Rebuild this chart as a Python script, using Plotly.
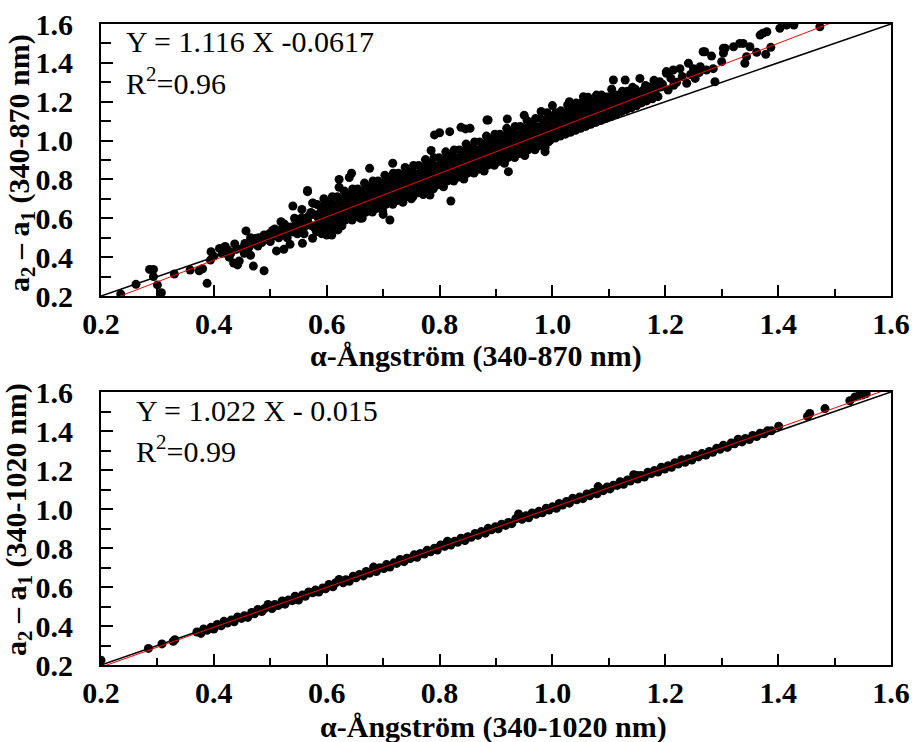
import plotly.graph_objects as go

# ---------------- data ----------------
# top panel: alpha-Angstrom (340-870 nm) vs a2 - a1 (340-870 nm)
top_low_x = [0.235, 0.262, 0.286, 0.293, 0.293, 0.300, 0.307, 0.330, 0.358, 0.374,
             0.380, 0.388, 0.395, 0.394, 0.410, 0.425, 0.427, 0.437, 0.442, 0.435,
             0.457, 0.454, 0.463, 0.470, 0.475, 0.478, 0.489, 0.489, 0.498, 0.504,
             0.511, 0.519, 0.524, 0.522, 0.531, 0.535, 0.540, 0.543, 0.556, 0.557,
             0.566, 0.575, 0.572, 0.575, 0.577, 0.566,
             0.440, 0.445, 0.415, 0.400, 0.470, 0.480, 0.495, 0.505, 0.510, 0.515,
             0.528, 0.535, 0.545, 0.550, 0.552, 0.560, 0.548, 0.563, 0.570, 0.580,
             0.455, 0.460, 0.465, 0.485, 0.492, 0.500, 0.508, 0.518, 0.525, 0.530,
             0.540, 0.545, 0.555, 0.560, 0.568, 0.575, 0.420, 0.430, 0.450, 0.465]
top_low_y = [0.210, 0.260, 0.337, 0.337, 0.300, 0.257, 0.217, 0.313, 0.334, 0.330,
             0.340, 0.265, 0.428, 0.385, 0.445, 0.437, 0.400, 0.468, 0.360, 0.370,
             0.535, 0.420, 0.455, 0.354, 0.497, 0.457, 0.330, 0.514, 0.520, 0.537,
             0.432, 0.582, 0.440, 0.550, 0.535, 0.466, 0.663, 0.600, 0.645, 0.471,
             0.737, 0.679, 0.630, 0.497, 0.620, 0.585,
             0.440, 0.380, 0.420, 0.405, 0.480, 0.500, 0.490, 0.510, 0.525, 0.500,
             0.515, 0.555, 0.560, 0.540, 0.575, 0.555, 0.520, 0.600, 0.565, 0.545,
             0.470, 0.440, 0.500, 0.475, 0.500, 0.480, 0.545, 0.530, 0.570, 0.500,
             0.530, 0.590, 0.600, 0.520, 0.610, 0.560, 0.455, 0.420, 0.445, 0.410]

top_band_x = [
    0.582, 0.587, 0.585, 0.589, 0.583,
    0.591, 0.596, 0.594, 0.598, 0.592, 0.595,
    0.600, 0.605, 0.603, 0.607, 0.601,
    0.609, 0.614, 0.612, 0.616, 0.610,
    0.618, 0.623, 0.621, 0.625, 0.619,
    0.627, 0.632, 0.630, 0.634, 0.628, 0.631,
    0.636, 0.641, 0.639, 0.643, 0.637,
    0.645, 0.650, 0.648, 0.652, 0.646,
    0.654, 0.659, 0.657, 0.661, 0.655,
    0.663, 0.668, 0.666, 0.670, 0.664, 0.667,
    0.672, 0.677, 0.675, 0.679, 0.673,
    0.681, 0.686, 0.684, 0.688, 0.682,
    0.690, 0.695, 0.693, 0.697, 0.691,
    0.699, 0.704, 0.702, 0.706, 0.700, 0.703,
    0.708, 0.713, 0.711, 0.715, 0.709,
    0.717, 0.722, 0.720, 0.724, 0.718,
    0.726, 0.731, 0.729, 0.733, 0.727,
    0.735, 0.740, 0.738, 0.742, 0.736, 0.739,
    0.744, 0.749, 0.747, 0.751, 0.745,
    0.753, 0.758, 0.756, 0.760, 0.754,
    0.762, 0.767, 0.765, 0.769, 0.763,
    0.771, 0.776, 0.774, 0.778, 0.772, 0.775,
    0.780, 0.785, 0.783, 0.787, 0.781,
    0.789, 0.794, 0.792, 0.796, 0.790,
    0.798, 0.803, 0.801, 0.805, 0.799,
    0.807, 0.812, 0.810, 0.814, 0.808, 0.811,
    0.816, 0.821, 0.819, 0.823, 0.817,
    0.825, 0.830, 0.828, 0.832, 0.826,
    0.834, 0.839, 0.837, 0.841, 0.835,
    0.843, 0.848, 0.846, 0.850, 0.844, 0.847,
    0.852, 0.857, 0.855, 0.859, 0.853,
    0.861, 0.866, 0.864, 0.868, 0.862,
    0.870, 0.875, 0.873, 0.877, 0.871,
    0.879, 0.884, 0.882, 0.886, 0.880, 0.883,
    0.888, 0.893, 0.891, 0.895, 0.889,
    0.897, 0.902, 0.900, 0.904, 0.898,
    0.906, 0.911, 0.909, 0.913, 0.907,
    0.915, 0.920, 0.918, 0.922, 0.916, 0.919,
    0.924, 0.929, 0.927, 0.931, 0.925,
    0.933, 0.938, 0.936, 0.940, 0.934,
    0.942, 0.947, 0.945, 0.949, 0.943,
    0.951, 0.956, 0.954, 0.958, 0.952, 0.955,
    0.960, 0.965, 0.963, 0.967, 0.961,
    0.969, 0.974, 0.972, 0.976, 0.970,
    0.978, 0.983, 0.981, 0.985, 0.979,
    0.987, 0.992, 0.990, 0.994, 0.988, 0.991,
    0.996, 1.001, 0.999, 1.003, 0.997,
    1.005, 1.010, 1.008, 1.012, 1.006,
    1.014, 1.019, 1.017, 1.021, 1.015,
    1.023, 1.028, 1.026, 1.030, 1.024, 1.027,
    1.032, 1.037, 1.035, 1.039, 1.033,
    1.041, 1.046, 1.044, 1.048, 1.042,
    1.050, 1.055, 1.053, 1.057, 1.051,
    1.059, 1.064, 1.062, 1.066, 1.060, 1.063,
    1.068, 1.073, 1.071, 1.075, 1.069,
    1.077, 1.082, 1.080, 1.084, 1.078,
    1.086, 1.091, 1.089, 1.093, 1.087,
    1.095, 1.100, 1.098, 1.102, 1.096,
    1.104, 1.109, 1.107, 1.111, 1.105,
    1.113, 1.118, 1.116, 1.120,
    1.122, 1.127, 1.125, 1.129,
    1.131, 1.136, 1.134, 1.138,
    1.140, 1.145, 1.143, 1.147,
    1.149, 1.154, 1.152,
    1.158, 1.163, 1.161, 1.165,
    1.167, 1.172, 1.170,
    1.177, 1.182, 1.180,
    1.187, 1.192,
]
top_band_y = [
    0.531, 0.571, 0.601, 0.631, 0.671,
    0.521, 0.561, 0.591, 0.631, 0.661, 0.701,
    0.561, 0.581, 0.631, 0.661, 0.681,
    0.551, 0.601, 0.621, 0.656, 0.711,
    0.571, 0.611, 0.641, 0.671, 0.711,
    0.561, 0.601, 0.631, 0.671, 0.701, 0.741,
    0.601, 0.621, 0.671, 0.701, 0.721,
    0.591, 0.641, 0.661, 0.696, 0.751,
    0.611, 0.651, 0.681, 0.711, 0.751,
    0.601, 0.641, 0.671, 0.711, 0.741, 0.781,
    0.642, 0.662, 0.712, 0.742, 0.762,
    0.632, 0.682, 0.702, 0.737, 0.792,
    0.652, 0.692, 0.722, 0.752, 0.792,
    0.642, 0.682, 0.712, 0.752, 0.782, 0.822,
    0.682, 0.702, 0.752, 0.782, 0.802,
    0.672, 0.722, 0.742, 0.777, 0.832,
    0.692, 0.732, 0.762, 0.792, 0.832,
    0.682, 0.722, 0.752, 0.792, 0.822, 0.862,
    0.722, 0.742, 0.792, 0.822, 0.842,
    0.712, 0.762, 0.782, 0.817, 0.872,
    0.732, 0.772, 0.802, 0.832, 0.872,
    0.722, 0.762, 0.792, 0.832, 0.862, 0.902,
    0.762, 0.782, 0.832, 0.862, 0.882,
    0.752, 0.802, 0.822, 0.857, 0.912,
    0.772, 0.812, 0.842, 0.872, 0.912,
    0.762, 0.802, 0.832, 0.872, 0.902, 0.942,
    0.802, 0.822, 0.872, 0.902, 0.922,
    0.792, 0.842, 0.862, 0.897, 0.952,
    0.812, 0.852, 0.882, 0.912, 0.952,
    0.802, 0.842, 0.872, 0.912, 0.942, 0.982,
    0.842, 0.862, 0.912, 0.942, 0.962,
    0.833, 0.883, 0.903, 0.938, 0.993,
    0.853, 0.893, 0.923, 0.953, 0.993,
    0.843, 0.883, 0.913, 0.953, 0.983, 1.023,
    0.883, 0.903, 0.953, 0.983, 1.003,
    0.873, 0.923, 0.943, 0.978, 1.033,
    0.893, 0.933, 0.963, 0.993, 1.033,
    0.883, 0.923, 0.953, 0.993, 1.023, 1.063,
    0.923, 0.943, 0.993, 1.023, 1.043,
    0.913, 0.963, 0.983, 1.018, 1.073,
    0.933, 0.973, 1.003, 1.033, 1.073,
    0.923, 0.963, 0.993, 1.033, 1.063, 1.103,
    0.963, 0.983, 1.033, 1.063, 1.083,
    0.953, 1.003, 1.023, 1.058, 1.113,
    0.973, 1.013, 1.043, 1.073, 1.113,
    0.963, 1.003, 1.033, 1.073, 1.103, 1.143,
    1.003, 1.023, 1.073, 1.103, 1.123,
    1.013, 1.043, 1.063, 1.098, 1.143,
    1.023, 1.053, 1.083, 1.113, 1.153,
    1.033, 1.058, 1.073, 1.113, 1.143, 1.183,
    1.043, 1.063, 1.113, 1.143, 1.163,
    1.053, 1.083, 1.103, 1.138, 1.193,
    1.063, 1.093, 1.123, 1.153, 1.193,
    1.073, 1.098, 1.113, 1.153, 1.183, 1.223,
    1.084, 1.104, 1.154, 1.184, 1.204,
    1.094, 1.124, 1.144, 1.179, 1.234,
    1.104, 1.134, 1.164, 1.194, 1.234,
    1.114, 1.139, 1.154, 1.194, 1.224,
    1.124, 1.144, 1.194, 1.224, 1.264,
    1.134, 1.164, 1.184, 1.219,
    1.149, 1.174, 1.204, 1.234,
    1.159, 1.184, 1.224, 1.254,
    1.169, 1.199, 1.229, 1.264,
    1.179, 1.214, 1.244,
    1.194, 1.224, 1.259, 1.284,
    1.204, 1.234, 1.274,
    1.215, 1.250, 1.290,
    1.226, 1.276,
]

# second layer of the dense band (points between the columns above)
top_fill_x = [
    0.588, 0.592, 0.590, 0.593,
    0.597, 0.601, 0.599, 0.602,
    0.606, 0.610, 0.608, 0.611,
    0.615, 0.619, 0.617, 0.620,
    0.624, 0.628, 0.626, 0.629,
    0.633, 0.637, 0.635, 0.638,
    0.642, 0.646, 0.644, 0.647,
    0.651, 0.655, 0.653, 0.656,
    0.660, 0.664, 0.662, 0.665,
    0.669, 0.673, 0.671, 0.674,
    0.678, 0.682, 0.680, 0.683,
    0.687, 0.691, 0.689, 0.692,
    0.696, 0.700, 0.698, 0.701,
    0.705, 0.709, 0.707, 0.710,
    0.714, 0.718, 0.716, 0.719,
    0.723, 0.727, 0.725, 0.728,
    0.732, 0.736, 0.734, 0.737,
    0.741, 0.745, 0.743, 0.746,
    0.750, 0.754, 0.752, 0.755,
    0.759, 0.763, 0.761, 0.764,
    0.768, 0.772, 0.770, 0.773,
    0.777, 0.781, 0.779, 0.782,
    0.786, 0.790, 0.788, 0.791,
    0.795, 0.799, 0.797, 0.800,
    0.804, 0.808, 0.806, 0.809,
    0.813, 0.817, 0.815, 0.818,
    0.822, 0.826, 0.824, 0.827,
    0.831, 0.835, 0.833, 0.836,
    0.840, 0.844, 0.842, 0.845,
    0.849, 0.853, 0.851, 0.854,
    0.858, 0.862, 0.860, 0.863,
    0.867, 0.871, 0.869, 0.872,
    0.876, 0.880, 0.878, 0.881,
    0.885, 0.889, 0.887, 0.890,
    0.894, 0.898, 0.896, 0.899,
    0.903, 0.907, 0.905, 0.908,
    0.912, 0.916, 0.914, 0.917,
    0.921, 0.925, 0.923, 0.926,
    0.930, 0.934, 0.932, 0.935,
    0.939, 0.943, 0.941, 0.944,
    0.948, 0.952, 0.950, 0.953,
    0.957, 0.961, 0.959, 0.962,
    0.966, 0.970, 0.968, 0.971,
    0.975, 0.979, 0.977, 0.980,
    0.984, 0.988, 0.986, 0.989,
    0.993, 0.997, 0.995, 0.998,
    1.002, 1.006, 1.004, 1.007,
    1.011, 1.015, 1.013, 1.016,
    1.020, 1.024, 1.022, 1.025,
    1.029, 1.033, 1.031, 1.034,
    1.038, 1.042, 1.040, 1.043,
    1.047, 1.051, 1.049, 1.052,
    1.056, 1.060, 1.058, 1.061,
    1.065, 1.069, 1.067, 1.070,
    1.074, 1.078, 1.076, 1.079,
    1.083, 1.087, 1.085, 1.088,
    1.092, 1.096, 1.094, 1.097,
    1.101, 1.105, 1.103, 1.106,
    1.110, 1.114, 1.112, 1.115,
    1.119, 1.123, 1.121, 1.124,
    1.128, 1.132, 1.130, 1.133,
    1.137, 1.141, 1.139, 1.142,
]
top_fill_y = [
    0.551, 0.581, 0.616, 0.651,
    0.551, 0.581, 0.616, 0.651,
    0.571, 0.601, 0.636, 0.671,
    0.571, 0.601, 0.636, 0.671,
    0.591, 0.621, 0.656, 0.691,
    0.591, 0.621, 0.656, 0.691,
    0.611, 0.641, 0.676, 0.711,
    0.611, 0.641, 0.676, 0.711,
    0.631, 0.661, 0.696, 0.731,
    0.631, 0.661, 0.696, 0.731,
    0.652, 0.682, 0.717, 0.752,
    0.652, 0.682, 0.717, 0.752,
    0.672, 0.702, 0.737, 0.772,
    0.672, 0.702, 0.737, 0.772,
    0.692, 0.722, 0.757, 0.792,
    0.692, 0.722, 0.757, 0.792,
    0.712, 0.742, 0.777, 0.812,
    0.712, 0.742, 0.777, 0.812,
    0.732, 0.762, 0.797, 0.832,
    0.732, 0.762, 0.797, 0.832,
    0.752, 0.782, 0.817, 0.852,
    0.752, 0.782, 0.817, 0.852,
    0.772, 0.802, 0.837, 0.872,
    0.772, 0.802, 0.837, 0.872,
    0.792, 0.822, 0.857, 0.892,
    0.792, 0.822, 0.857, 0.892,
    0.812, 0.842, 0.877, 0.912,
    0.812, 0.842, 0.877, 0.912,
    0.832, 0.862, 0.897, 0.932,
    0.832, 0.862, 0.897, 0.932,
    0.852, 0.882, 0.917, 0.952,
    0.853, 0.883, 0.918, 0.953,
    0.873, 0.903, 0.938, 0.973,
    0.873, 0.903, 0.938, 0.973,
    0.893, 0.923, 0.958, 0.993,
    0.893, 0.923, 0.958, 0.993,
    0.913, 0.943, 0.978, 1.013,
    0.913, 0.943, 0.978, 1.013,
    0.933, 0.963, 0.998, 1.033,
    0.933, 0.963, 0.998, 1.033,
    0.953, 0.983, 1.018, 1.053,
    0.953, 0.983, 1.018, 1.053,
    0.973, 1.003, 1.038, 1.073,
    0.973, 1.003, 1.038, 1.073,
    0.993, 1.023, 1.058, 1.093,
    0.993, 1.023, 1.058, 1.093,
    1.018, 1.043, 1.078, 1.113,
    1.033, 1.058, 1.098, 1.133,
    1.038, 1.063, 1.098, 1.133,
    1.053, 1.078, 1.118, 1.153,
    1.058, 1.083, 1.118, 1.153,
    1.073, 1.098, 1.138, 1.173,
    1.078, 1.103, 1.138, 1.173,
    1.094, 1.119, 1.159, 1.194,
    1.099, 1.124, 1.159, 1.194,
    1.114, 1.139, 1.179, 1.214,
    1.119, 1.144, 1.179, 1.214,
    1.134, 1.159, 1.199, 1.234,
    1.139, 1.164, 1.199, 1.234,
    1.154, 1.179, 1.219, 1.254,
    1.159, 1.184, 1.219, 1.254,
    1.174, 1.199, 1.239, 1.274,
]

top_out_x = [0.566, 0.644, 0.640, 0.622, 0.622, 0.676, 0.717, 0.791, 0.818, 0.838,
             0.846, 0.886, 0.785, 0.820, 0.609, 0.620, 0.712, 0.576, 0.783, 0.922,
             0.987, 0.884, 0.920, 0.854, 1.055, 1.061, 0.600, 0.800, 0.700, 0.660,
             0.750, 0.950, 1.000, 1.030, 0.980]
top_out_y = [0.743, 0.832, 0.810, 0.800, 0.760, 0.857, 0.883, 1.029, 1.046, 1.068,
             1.060, 1.106, 0.949, 0.689, 0.514, 0.540, 0.591, 0.677, 0.720, 0.840,
             0.943, 1.106, 1.111, 1.063, 1.226, 1.210, 0.514, 1.040, 0.620, 0.600,
             0.700, 1.130, 1.180, 1.200, 1.150]

top_high_x = [1.202, 1.214, 1.241, 1.267, 1.282, 1.288, 1.303, 1.303, 1.300, 1.321,
              1.332, 1.338, 1.350, 1.344, 1.341, 1.362, 1.368, 1.380, 1.378, 1.387,
              1.403, 1.415, 1.428, 1.474, 1.190, 1.205, 1.238, 1.253, 1.262, 1.273,
              1.226, 1.108, 1.129, 1.155, 1.180, 1.202, 1.270, 1.306, 1.373, 1.220,
              1.230, 1.195, 1.210, 1.245, 1.260, 1.285, 1.250, 1.215]
top_high_y = [1.346, 1.363, 1.398, 1.457, 1.435, 1.303, 1.475, 1.450, 1.406, 1.483,
              1.500, 1.500, 1.483, 1.432, 1.398, 1.454, 1.543, 1.560, 1.444, 1.480,
              1.578, 1.595, 1.595, 1.586, 1.303, 1.260, 1.295, 1.320, 1.380, 1.363,
              1.370, 1.312, 1.312, 1.320, 1.310, 1.355, 1.457, 1.475, 1.553, 1.300,
              1.330, 1.290, 1.320, 1.340, 1.350, 1.370, 1.370, 1.285]

top_x = top_low_x + top_band_x + top_fill_x + top_out_x + top_high_x
top_y = top_low_y + top_band_y + top_fill_y + top_out_y + top_high_y
top_slope, top_intercept = 1.116, -0.0617

# bottom panel: alpha-Angstrom (340-1020 nm) vs a2 - a1 (340-1020 nm)
bot_main_x = [
    0.370, 0.377, 0.382, 0.388, 0.395, 0.400, 0.406, 0.413, 0.418, 0.424,
    0.431, 0.436, 0.442, 0.449, 0.454, 0.460, 0.467, 0.472, 0.478, 0.485,
    0.490, 0.496, 0.503, 0.508, 0.514, 0.521, 0.526, 0.532, 0.539, 0.544,
    0.550, 0.557, 0.562, 0.568, 0.575, 0.580, 0.586, 0.593, 0.598, 0.604,
    0.611, 0.616, 0.622, 0.629, 0.634, 0.640, 0.647, 0.652, 0.658, 0.665,
    0.670, 0.676, 0.683, 0.688, 0.694, 0.701, 0.706, 0.712, 0.719, 0.724,
    0.730, 0.737, 0.742, 0.748, 0.755, 0.760, 0.766, 0.773, 0.778, 0.784,
    0.791, 0.796, 0.802, 0.809, 0.814, 0.820, 0.827, 0.832, 0.838, 0.845,
    0.850, 0.856, 0.863, 0.868, 0.874, 0.881, 0.886, 0.892, 0.899, 0.904,
    0.910, 0.917, 0.922, 0.928, 0.935, 0.940, 0.946, 0.953, 0.958, 0.964,
    0.971, 0.976, 0.982, 0.989, 0.994, 1.000, 1.007, 1.012, 1.018, 1.025,
    1.030, 1.036, 1.043, 1.048, 1.054, 1.061, 1.066, 1.072, 1.079, 1.081,
    1.084, 1.090, 1.097, 1.102, 1.108, 1.115, 1.120, 1.126, 1.133, 1.138,
    1.144, 1.150, 1.151, 1.157, 1.163, 1.169, 1.175, 1.181, 1.187, 1.193,
    1.199, 1.205, 1.211, 1.217, 1.223, 1.229, 1.235, 1.241, 1.247, 1.253,
    1.259, 1.265, 1.272, 1.278, 1.284, 1.291, 1.297, 1.303, 1.310, 1.317,
    1.323, 1.329, 1.336, 1.342, 1.349, 1.355, 1.362, 1.368, 1.375, 1.381,
    1.388, 1.401,
]
bot_main_y = [
    0.369, 0.362, 0.385, 0.378, 0.393, 0.384, 0.408, 0.401, 0.424, 0.415,
    0.431, 0.422, 0.446, 0.439, 0.452, 0.444, 0.469, 0.463, 0.485, 0.474,
    0.490, 0.510, 0.490, 0.510, 0.505, 0.528, 0.512, 0.533, 0.530, 0.553,
    0.533, 0.559, 0.552, 0.575, 0.570, 0.584, 0.574, 0.595, 0.591, 0.613,
    0.601, 0.622, 0.639, 0.622, 0.637, 0.629, 0.655, 0.647, 0.664, 0.657,
    0.680, 0.671, 0.702, 0.679, 0.699, 0.695, 0.715, 0.702, 0.724, 0.721,
    0.741, 0.730, 0.748, 0.746, 0.765, 0.752, 0.772, 0.769, 0.789, 0.781,
    0.799, 0.790, 0.816, 0.808, 0.835, 0.815, 0.835, 0.829, 0.850, 0.838,
    0.858, 0.855, 0.875, 0.865, 0.884, 0.876, 0.901, 0.893, 0.909, 0.899,
    0.922, 0.916, 0.931, 0.925, 0.950, 0.975, 0.947, 0.965, 0.955, 0.980,
    0.973, 0.988, 0.981, 1.004, 0.995, 1.011, 1.004, 1.028, 1.020, 1.039,
    1.030, 1.055, 1.047, 1.061, 1.053, 1.077, 1.068, 1.085, 1.078, 1.115,
    1.105, 1.094, 1.113, 1.103, 1.122, 1.121, 1.140, 1.127, 1.149, 1.143,
    1.176, 1.172, 1.154, 1.172, 1.164, 1.188, 1.182, 1.198, 1.190, 1.214,
    1.205, 1.222, 1.214, 1.237, 1.231, 1.253, 1.240, 1.258, 1.251, 1.275,
    1.267, 1.284, 1.276, 1.295, 1.291, 1.312, 1.306, 1.327, 1.316, 1.339,
    1.334, 1.358, 1.344, 1.362, 1.356, 1.377, 1.372, 1.389, 1.386, 1.401,
    1.401, 1.425,
]
bot_ends_x = [0.200, 0.284, 0.308, 0.328, 0.331, 1.452, 1.456, 1.483, 1.527, 1.536,
              1.543, 1.550, 1.556]
bot_ends_y = [0.225, 0.285, 0.308, 0.322, 0.330, 1.475, 1.490, 1.515, 1.555, 1.575,
              1.580, 1.585, 1.592]

bot_x = bot_ends_x + bot_main_x
bot_y = bot_ends_y + bot_main_y
bot_slope, bot_intercept = 1.022, -0.015

tick_vals = [0.2, 0.4, 0.6, 0.8, 1.0, 1.2, 1.4, 1.6]
tick_text = ["0.2", "0.4", "0.6", "0.8", "1.0", "1.2", "1.4", "1.6"]
minor_vals = [0.3, 0.5, 0.7, 0.9, 1.1, 1.3, 1.5]
axis_range = [0.2, 1.6]

# ---------------- figure ----------------
W, H = 912, 742
FONT = "Liberation Serif"


def px(xp):
    return xp / W


def py(yp):
    return 1 - yp / H


fig = go.Figure()

panels = [
    dict(xs=top_x, ys=top_y, slope=top_slope, icpt=top_intercept, xa="x", ya="y"),
    dict(xs=bot_x, ys=bot_y, slope=bot_slope, icpt=bot_intercept, xa="x2", ya="y2"),
]
for p in panels:
    fig.add_trace(go.Scatter(
        x=p["xs"], y=p["ys"], mode="markers", xaxis=p["xa"], yaxis=p["ya"],
        marker=dict(size=9, color="black", line=dict(width=0)),
        showlegend=False, hoverinfo="skip"))
    fig.add_trace(go.Scatter(
        x=axis_range, y=axis_range, mode="lines", xaxis=p["xa"], yaxis=p["ya"],
        line=dict(color="black", width=1.6), showlegend=False, hoverinfo="skip"))
    fig.add_trace(go.Scatter(
        x=axis_range, y=[p["slope"] * v + p["icpt"] for v in axis_range],
        mode="lines", xaxis=p["xa"], yaxis=p["ya"],
        line=dict(color="#ff0000", width=1), showlegend=False, hoverinfo="skip"))

tickfont = dict(family=FONT, size=30, color="black", weight="bold")


def xaxis_cfg(anchor, domain):
    return dict(
        domain=domain, anchor=anchor, range=axis_range, automargin=False,
        tickmode="array", tickvals=tick_vals, ticktext=tick_text,
        ticks="inside", ticklen=11, tickwidth=2, tickcolor="black",
        minor=dict(tickmode="array", tickvals=minor_vals, ticks="inside",
                   ticklen=7, tickwidth=2, tickcolor="black"),
        showline=True, linewidth=2, linecolor="black", mirror=True,
        showgrid=False, zeroline=False, tickfont=tickfont,
        ticklabelstandoff=0)


def yaxis_cfg(anchor, domain):
    return dict(
        domain=domain, anchor=anchor, range=axis_range, automargin=False,
        tickmode="array", tickvals=tick_vals, ticktext=tick_text,
        ticks="inside", ticklen=12, tickwidth=2, tickcolor="black",
        minor=dict(tickmode="array", tickvals=minor_vals, ticks="inside",
                   ticklen=10, tickwidth=2, tickcolor="black"),
        showline=True, linewidth=2, linecolor="black", mirror=True,
        showgrid=False, zeroline=False, tickfont=tickfont,
        ticklabelstandoff=20)


xdom = [px(101), px(891)]
fig.update_layout(
    width=W, height=H, margin=dict(l=0, r=0, t=0, b=0, autoexpand=False),
    paper_bgcolor="white", plot_bgcolor="white",
    xaxis=xaxis_cfg("y", xdom),
    yaxis=yaxis_cfg("x", [py(296), py(24)]),
    xaxis2=xaxis_cfg("y2", xdom),
    yaxis2=yaxis_cfg("x2", [py(665), py(392)]),
)

ann_font = dict(family=FONT, size=30, color="black")
bold_font = dict(family=FONT, size=30, color="black", weight="bold")
annotations = [
    dict(text="Y = 1.116 X -0.0617", x=px(124), y=py(42), xanchor="left", yanchor="middle", font=ann_font),
    dict(text="R<sup>2</sup>=0.96", x=px(124), y=py(81), xanchor="left", yanchor="middle", font=ann_font),
    dict(text="Y = 1.022 X - 0.015", x=px(134), y=py(410), xanchor="left", yanchor="middle", font=ann_font),
    dict(text="R<sup>2</sup>=0.99", x=px(134), y=py(449), xanchor="left", yanchor="middle", font=ann_font),
    dict(text="α-Ångström (340-870 nm)", x=px(476), y=py(356), xanchor="center", yanchor="middle", font=bold_font),
    dict(text="α-Ångström (340-1020 nm)", x=px(494), y=py(727), xanchor="center", yanchor="middle", font=bold_font),
    dict(text="a<sub>2</sub> – a<sub>1</sub> (340-870 nm)", x=px(21), y=py(163), textangle=-90,
         xanchor="center", yanchor="middle", font=bold_font),
    dict(text="a<sub>2</sub> – a<sub>1</sub> (340-1020 nm)", x=px(18), y=py(520), textangle=-90,
         xanchor="center", yanchor="middle", font=bold_font),
]
for a in annotations:
    a.update(xref="paper", yref="paper", showarrow=False)
fig.update_layout(annotations=annotations)

fig.write_html("out.html")
